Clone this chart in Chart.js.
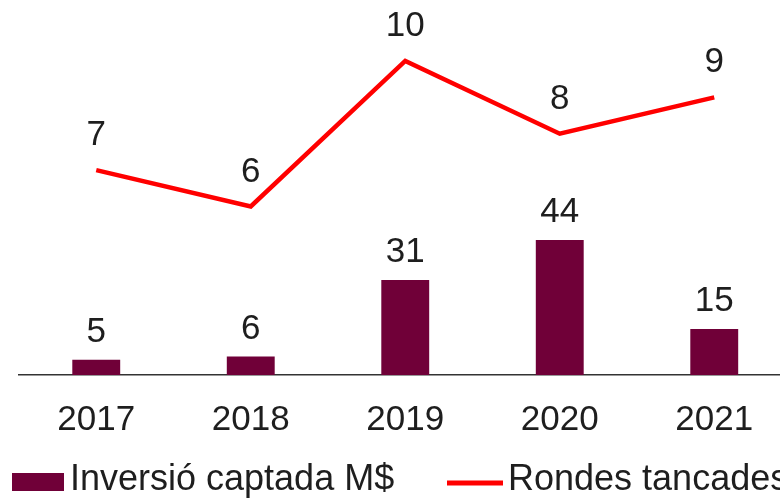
<!DOCTYPE html>
<html>
<head>
<meta charset="utf-8">
<script src="https://cdn.jsdelivr.net/npm/chart.js@4/dist/chart.umd.min.js"></script>
<style>
  html, body { margin: 0; padding: 0; background: #fff; overflow: hidden; width: 780px; height: 498px; }
  #wrap { width: 780px; height: 498px; overflow: hidden; position: relative; }
  canvas { display: block; }
</style>
</head>
<body>
<div id="wrap"><canvas id="c" width="800" height="498"></canvas></div>
<script>
const categories = ['2017', '2018', '2019', '2020', '2021'];
const investment = [5, 6, 31, 44, 15];
const rounds = [7, 6, 10, 8, 9];
const investmentLabel = 'Inversió captada M$';
const roundsLabel = 'Rondes tancades';

const BAR_COLOR = '#700038';
const LINE_COLOR = '#ff0000';
const TEXT_COLOR = '#1e1e1e';
const FONT = '"Liberation Sans", Arial, Helvetica, sans-serif';

const labelPlugin = {
  id: 'valueLabels',
  afterDatasetsDraw(chart) {
    const ctx = chart.ctx;
    ctx.save();
    ctx.fillStyle = TEXT_COLOR;
    ctx.font = '35px ' + FONT;
    ctx.textAlign = 'center';
    ctx.textBaseline = 'alphabetic';
    chart.data.datasets.forEach((ds, i) => {
      const meta = chart.getDatasetMeta(i);
      meta.data.forEach((el, j) => {
        const v = ds.data[j];
        const off = ds.type === 'line' ? 25 : 18;
        ctx.fillText(String(v), el.x, el.y - off);
      });
    });
    ctx.restore();
  }
};

const legendPlugin = {
  id: 'customLegend',
  afterDraw(chart) {
    const ctx = chart.ctx;
    const ds = chart.data.datasets;
    ctx.save();
    ctx.fillStyle = ds[0].backgroundColor;
    ctx.fillRect(12, 473, 52, 18);
    drawText(ctx, ds[0].label, 70, 490);
    ctx.strokeStyle = ds[1].borderColor;
    ctx.lineWidth = 5;
    ctx.beginPath();
    ctx.moveTo(447, 483);
    ctx.lineTo(503, 483);
    ctx.stroke();
    drawText(ctx, ds[1].label, 508, 490);
    ctx.restore();
    function drawText(ctx, t, x, y) {
      ctx.fillStyle = TEXT_COLOR;
      ctx.font = '36px ' + FONT;
      ctx.textAlign = 'left';
      ctx.textBaseline = 'alphabetic';
      ctx.fillText(t, x, y);
    }
  }
};

new Chart(document.getElementById('c'), {
  data: {
    labels: categories,
    datasets: [
      {
        type: 'bar',
        label: investmentLabel,
        data: investment,
        backgroundColor: BAR_COLOR,
        borderWidth: 0,
        barPercentage: 0.31,
        categoryPercentage: 1,
        yAxisID: 'y',
        order: 2
      },
      {
        type: 'line',
        label: roundsLabel,
        data: rounds,
        borderColor: LINE_COLOR,
        backgroundColor: LINE_COLOR,
        borderWidth: 4.5,
        pointRadius: 0,
        tension: 0,
        fill: false,
        yAxisID: 'y1',
        order: 1
      }
    ]
  },
  options: {
    responsive: false,
    animation: false,
    layout: { padding: { left: 19, right: 8.5, top: 10, bottom: 41 } },
    plugins: {
      legend: { display: false },
      tooltip: { enabled: false }
    },
    scales: {
      x: {
        type: 'category',
        offset: true,
        grid: { display: false },
        border: { display: true, color: '#333333', width: 1.5 },
        ticks: { color: TEXT_COLOR, font: { family: FONT, size: 35 }, padding: 16, maxRotation: 0, autoSkip: false }
      },
      y: { display: false, min: 0, max: 119 },
      y1: { display: false, min: 1.37, max: 11.4 }
    }
  },
  plugins: [labelPlugin, legendPlugin]
});
</script>
</body>
</html>
